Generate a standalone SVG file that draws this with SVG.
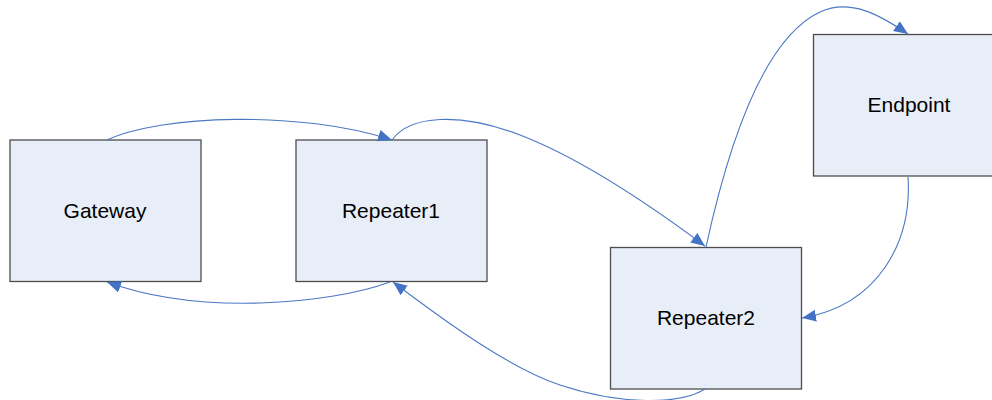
<svg xmlns="http://www.w3.org/2000/svg" width="992" height="400" viewBox="0 0 992 400">
<style>
.node rect{fill:#E8EEF7;stroke:#4d4d4d;stroke-width:1.3}
.node text{font-family:"Liberation Sans",Arial,sans-serif;font-size:21px;fill:#000;text-anchor:middle}
.edge{fill:none;stroke:#4A78C4;stroke-width:1.1;marker-end:url(#arr)}
</style>
<defs>
<marker id="arr" markerUnits="userSpaceOnUse" markerWidth="14" markerHeight="12" refX="14" refY="6" orient="auto">
<path d="M0,0 L14,6 L0,12 z" fill="#4472C4"/>
</marker>
</defs>
<rect width="992" height="400" fill="#fff"/>
<g id="Gateway" class="node"><rect x="10" y="140" width="191" height="141.5"/><text x="105" y="217.5">Gateway</text></g>
<g id="Repeater1" class="node"><rect x="296" y="140" width="191" height="141.5"/><text x="391" y="217.5">Repeater1</text></g>
<g id="Repeater2" class="node"><rect x="610.5" y="247.5" width="191" height="141.5"/><text x="706" y="324.5">Repeater2</text></g>
<g id="Endpoint" class="node"><rect x="813.5" y="34.5" width="191" height="141.5"/><text x="909" y="111.5">Endpoint</text></g>
<g id="connectors">
<path class="edge" d="M107,140 C160,115 300,110 392,140"/>
<path class="edge" d="M392,140 C410,115 460,112 520,135 C580,158 650,205 705,246"/>
<path class="edge" d="M706,247 C725,160 760,40 820,12 C850,-2 880,15 908,34"/>
<path class="edge" d="M908,177 C912,240 880,305 802,318"/>
<path class="edge" d="M705,389 C680,405 620,405 560,385 C510,368 450,325 393,282"/>
<path class="edge" d="M390,282 C330,304 200,316 107,282"/>
</g>
</svg>
